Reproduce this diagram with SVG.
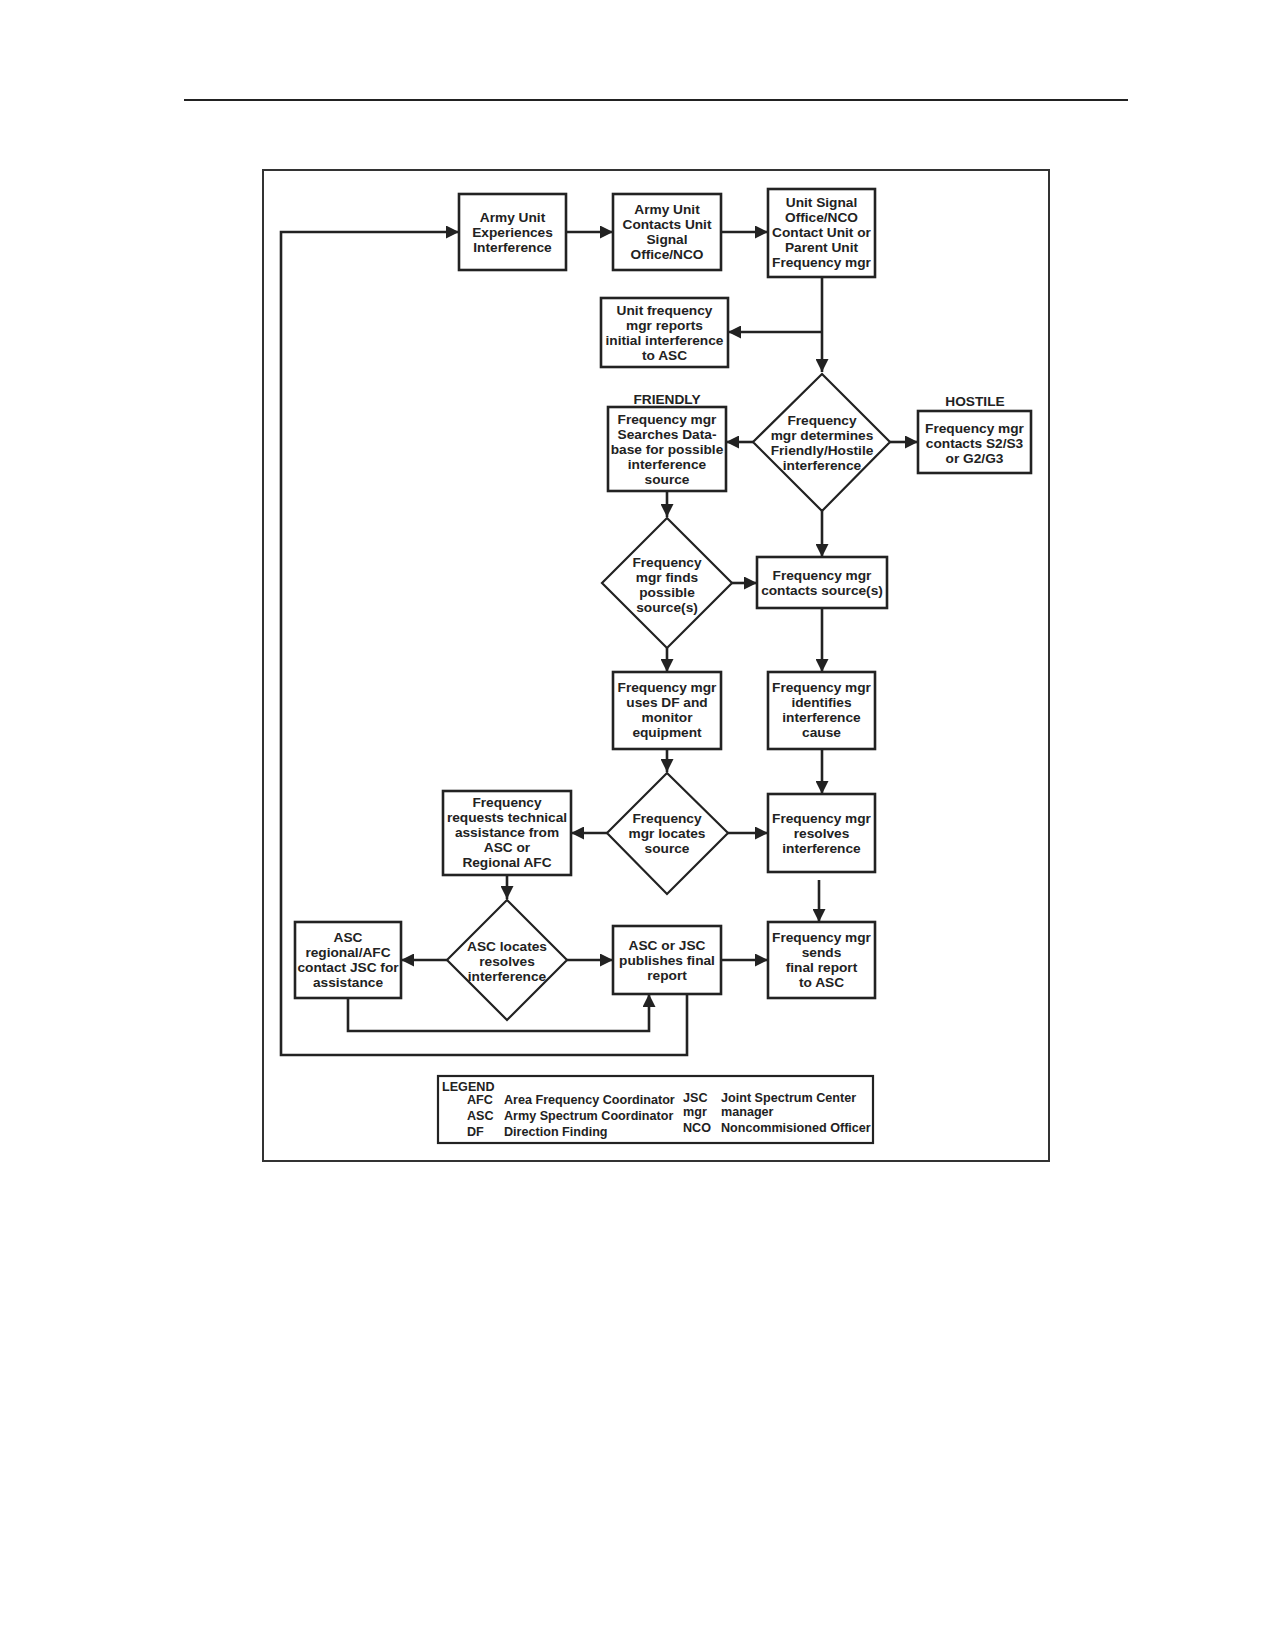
<svg xmlns="http://www.w3.org/2000/svg" width="1275" height="1650" viewBox="0 0 1275 1650">
<style>
.box{fill:#fff;stroke:#222;stroke-width:2.6}
.dia{fill:#fff;stroke:#222;stroke-width:2.2}
.t{font-family:"Liberation Sans",Arial,sans-serif;font-weight:bold;font-size:13.7px;text-anchor:middle;fill:#222}
.lg{font-family:"Liberation Sans",Arial,sans-serif;font-weight:bold;font-size:12.6px;fill:#222}
.c{fill:none;stroke:#222;stroke-width:2.6}
</style>
<defs>
<marker id="ah" markerUnits="userSpaceOnUse" markerWidth="15" markerHeight="13" refX="13" refY="6.5" orient="auto">
<path d="M0,0 L13,6.5 L0,13 Z" fill="#222"/>
</marker>
</defs>
<rect width="1275" height="1650" fill="#fff"/>
<line x1="184" y1="100" x2="1128" y2="100" stroke="#222" stroke-width="2"/>
<rect x="263" y="170" width="786" height="991" fill="none" stroke="#333" stroke-width="2"/>

<g id="connectors">
<polyline class="c" points="687,994 687,1055 281,1055 281,232 459,232" marker-end="url(#ah)"/>
<line class="c" x1="566" y1="232" x2="613" y2="232" marker-end="url(#ah)"/>
<line class="c" x1="721" y1="232" x2="768" y2="232" marker-end="url(#ah)"/>
<line class="c" x1="822" y1="277" x2="822" y2="372" marker-end="url(#ah)"/>
<line class="c" x1="822" y1="332" x2="728" y2="332" marker-end="url(#ah)"/>
<line class="c" x1="753" y1="442" x2="726" y2="442" marker-end="url(#ah)"/>
<line class="c" x1="890" y1="442" x2="918" y2="442" marker-end="url(#ah)"/>
<line class="c" x1="822" y1="511" x2="822" y2="557" marker-end="url(#ah)"/>
<line class="c" x1="667" y1="491" x2="667" y2="517" marker-end="url(#ah)"/>
<line class="c" x1="732" y1="583" x2="757" y2="583" marker-end="url(#ah)"/>
<line class="c" x1="667" y1="648" x2="667" y2="672" marker-end="url(#ah)"/>
<line class="c" x1="822" y1="608" x2="822" y2="672" marker-end="url(#ah)"/>
<line class="c" x1="667" y1="749" x2="667" y2="772" marker-end="url(#ah)"/>
<line class="c" x1="822" y1="749" x2="822" y2="794" marker-end="url(#ah)"/>
<line class="c" x1="607" y1="833" x2="571" y2="833" marker-end="url(#ah)"/>
<line class="c" x1="728" y1="833" x2="768" y2="833" marker-end="url(#ah)"/>
<line class="c" x1="819" y1="880" x2="819" y2="922" marker-end="url(#ah)"/>
<line class="c" x1="507" y1="875" x2="507" y2="899" marker-end="url(#ah)"/>
<line class="c" x1="447" y1="960" x2="401" y2="960" marker-end="url(#ah)"/>
<line class="c" x1="567" y1="960" x2="613" y2="960" marker-end="url(#ah)"/>
<line class="c" x1="721" y1="960" x2="768" y2="960" marker-end="url(#ah)"/>
<polyline class="c" points="348,998 348,1031 649,1031 649,994" marker-end="url(#ah)"/>
</g>

<g id="n1"><rect class="box" x="459" y="194" width="107" height="76"/>
<text class="t"><tspan x="512.5" y="221.5">Army Unit</tspan><tspan x="512.5" y="236.5">Experiences</tspan><tspan x="512.5" y="251.5">Interference</tspan></text></g>

<g id="n2"><rect class="box" x="613" y="194" width="108" height="76"/>
<text class="t"><tspan x="667" y="214">Army Unit</tspan><tspan x="667" y="229">Contacts Unit</tspan><tspan x="667" y="244">Signal</tspan><tspan x="667" y="259">Office/NCO</tspan></text></g>

<g id="n3"><rect class="box" x="768" y="189" width="107" height="88"/>
<text class="t"><tspan x="821.5" y="206.5">Unit Signal</tspan><tspan x="821.5" y="221.5">Office/NCO</tspan><tspan x="821.5" y="236.5">Contact Unit or</tspan><tspan x="821.5" y="251.5">Parent Unit</tspan><tspan x="821.5" y="266.5">Frequency mgr</tspan></text></g>

<g id="n4"><rect class="box" x="601" y="298" width="127" height="69"/>
<text class="t"><tspan x="664.5" y="314.5">Unit frequency</tspan><tspan x="664.5" y="329.5">mgr reports</tspan><tspan x="664.5" y="344.5">initial interference</tspan><tspan x="664.5" y="359.5">to ASC</tspan></text></g>

<g id="d1"><polygon class="dia" points="822,374 890,442 822,511 753,442"/>
<text class="t"><tspan x="822" y="424.5">Frequency</tspan><tspan x="822" y="439.5">mgr determines</tspan><tspan x="822" y="454.5">Friendly/Hostile</tspan><tspan x="822" y="469.5">interference</tspan></text></g>

<g id="lbl-friendly"><text class="t" x="667" y="403.5">FRIENDLY</text></g>
<g id="lbl-hostile"><text class="t" x="975" y="405.5">HOSTILE</text></g>

<g id="n5"><rect class="box" x="608" y="407" width="118" height="84"/>
<text class="t"><tspan x="667" y="424">Frequency mgr</tspan><tspan x="667" y="439">Searches Data-</tspan><tspan x="667" y="454">base for possible</tspan><tspan x="667" y="469">interference</tspan><tspan x="667" y="484">source</tspan></text></g>

<g id="n6"><rect class="box" x="918" y="411" width="113" height="62"/>
<text class="t"><tspan x="974.5" y="432.5">Frequency mgr</tspan><tspan x="974.5" y="447.5">contacts S2/S3</tspan><tspan x="974.5" y="462.5">or G2/G3</tspan></text></g>

<g id="d2"><polygon class="dia" points="667,518 732,583 667,648 602,583"/>
<text class="t"><tspan x="667" y="566.5">Frequency</tspan><tspan x="667" y="581.5">mgr finds</tspan><tspan x="667" y="596.5">possible</tspan><tspan x="667" y="611.5">source(s)</tspan></text></g>

<g id="n7"><rect class="box" x="757" y="557" width="130" height="51"/>
<text class="t"><tspan x="822" y="580">Frequency mgr</tspan><tspan x="822" y="595">contacts source(s)</tspan></text></g>

<g id="n8"><rect class="box" x="613" y="672" width="108" height="77"/>
<text class="t"><tspan x="667" y="692">Frequency mgr</tspan><tspan x="667" y="707">uses DF and</tspan><tspan x="667" y="722">monitor</tspan><tspan x="667" y="737">equipment</tspan></text></g>

<g id="n9"><rect class="box" x="768" y="672" width="107" height="77"/>
<text class="t"><tspan x="821.5" y="692">Frequency mgr</tspan><tspan x="821.5" y="707">identifies</tspan><tspan x="821.5" y="722">interference</tspan><tspan x="821.5" y="737">cause</tspan></text></g>

<g id="d3"><polygon class="dia" points="667,773 728,833 667,894 607,833"/>
<text class="t"><tspan x="667" y="823">Frequency</tspan><tspan x="667" y="838">mgr locates</tspan><tspan x="667" y="853">source</tspan></text></g>

<g id="n10"><rect class="box" x="443" y="791" width="128" height="84"/>
<text class="t"><tspan x="507" y="806.5">Frequency</tspan><tspan x="507" y="821.5">requests technical</tspan><tspan x="507" y="836.5">assistance from</tspan><tspan x="507" y="851.5">ASC or</tspan><tspan x="507" y="866.5">Regional AFC</tspan></text></g>

<g id="n11"><rect class="box" x="768" y="794" width="107" height="78"/>
<text class="t"><tspan x="821.5" y="822.5">Frequency mgr</tspan><tspan x="821.5" y="837.5">resolves</tspan><tspan x="821.5" y="852.5">interference</tspan></text></g>

<g id="d4"><polygon class="dia" points="507,900 567,960 507,1020 447,960"/>
<text class="t"><tspan x="507" y="950.5">ASC locates</tspan><tspan x="507" y="965.5">resolves</tspan><tspan x="507" y="980.5">interference</tspan></text></g>

<g id="n12"><rect class="box" x="295" y="922" width="106" height="76"/>
<text class="t"><tspan x="348" y="942">ASC</tspan><tspan x="348" y="957">regional/AFC</tspan><tspan x="348" y="972">contact JSC for</tspan><tspan x="348" y="987">assistance</tspan></text></g>

<g id="n13"><rect class="box" x="613" y="926" width="108" height="68"/>
<text class="t"><tspan x="667" y="949.5">ASC or JSC</tspan><tspan x="667" y="964.5">publishes final</tspan><tspan x="667" y="979.5">report</tspan></text></g>

<g id="n14"><rect class="box" x="768" y="922" width="107" height="76"/>
<text class="t"><tspan x="821.5" y="942">Frequency mgr</tspan><tspan x="821.5" y="957">sends</tspan><tspan x="821.5" y="972">final report</tspan><tspan x="821.5" y="987">to ASC</tspan></text></g>

<g id="legend"><rect x="438" y="1076" width="435" height="67" fill="none" stroke="#222" stroke-width="2.2"/>
<text class="lg" x="442" y="1091">LEGEND</text>
<text class="lg" x="467" y="1104">AFC</text><text class="lg" x="504" y="1104">Area Frequency Coordinator</text>
<text class="lg" x="467" y="1120">ASC</text><text class="lg" x="504" y="1120">Army Spectrum Coordinator</text>
<text class="lg" x="467" y="1136">DF</text><text class="lg" x="504" y="1136">Direction Finding</text>
<text class="lg" x="683" y="1102">JSC</text><text class="lg" x="721" y="1102">Joint Spectrum Center</text>
<text class="lg" x="683" y="1116">mgr</text><text class="lg" x="721" y="1116">manager</text>
<text class="lg" x="683" y="1132">NCO</text><text class="lg" x="721" y="1132">Noncommisioned Officer</text>
</g>
</svg>
